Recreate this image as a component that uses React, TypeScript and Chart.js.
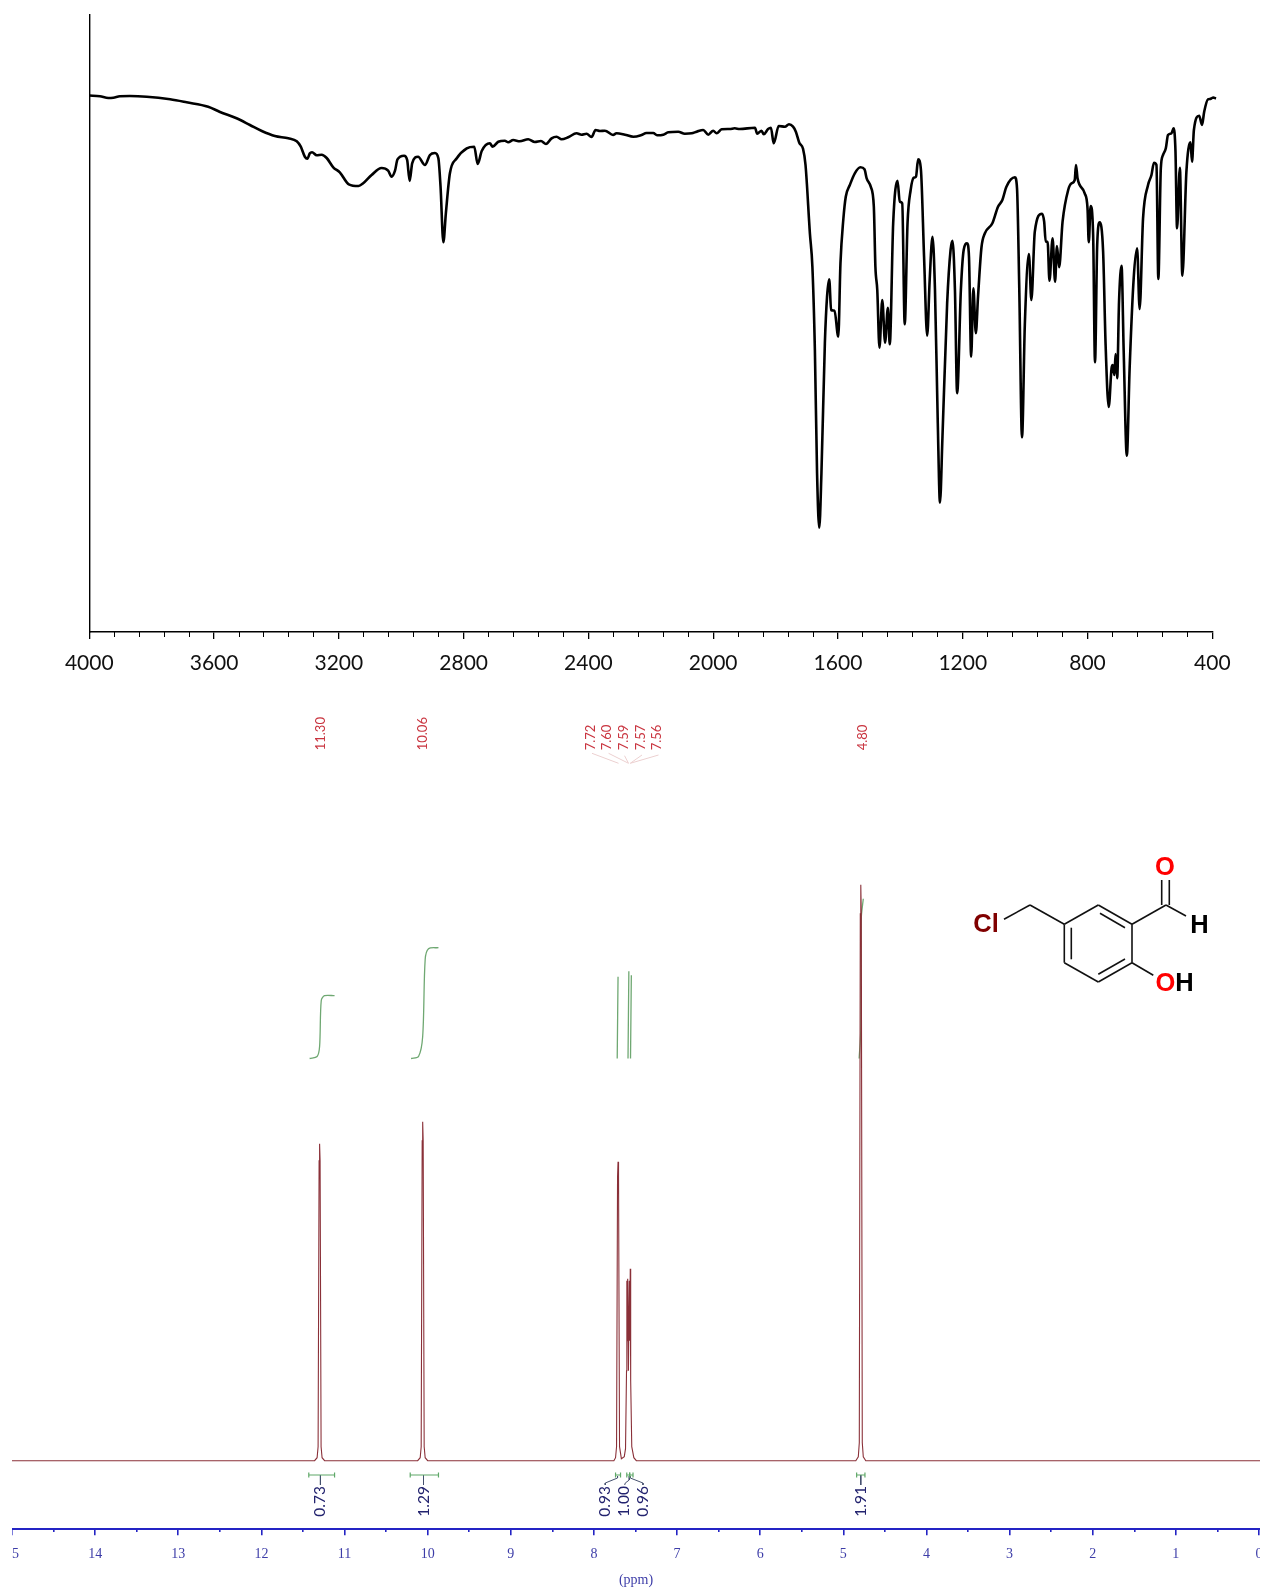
import React, { useEffect, useRef } from "react";
import { Chart, registerables } from "chart.js";

Chart.register(...registerables);

// ---------- IR spectrum ----------
const irWavenumber = [
  4000,3966,3939,3923,3902,3870,3816,3741,3688,3619,3581,3528,3485,3447,3405,3362,3335,3322,3309,3301,3293,3286,3271,3255,3239,3218,3197,3168,3137,3122,3095,3063,3042,3031,3020,3012,2991,2981,2973,2965,2946,2924,2908,2892,2881,2874,2865,2857,2844,2822,2790,2766,2755,2742,2716,2707,2689,2668,2657,2641,2620,2593,2572,2552,2536,2518,2502,2486,2465,2438,2422,2406,2390,2377,2363,2347,2321,2310,2283,2256,2230,2214,2192,2180,2160,2144,2112,2091,2069,2053,2032,2016,2000,1989,1973,1947,1931,1915,1866,1859,1845,1838,1824,1815,1806,1790,1770,1757,1744,1735,1724,1712,1704,1690,1682,1674,1667,1660,1653,1642,1635,1628,1622,1611,1599,1592,1583,1575,1562,1546,1528,1515,1508,1495,1485,1480,1474,1467,1458,1449,1440,1434,1423,1409,1402,1394,1386,1377,1367,1357,1350,1343,1334,1324,1314,1306,1297,1289,1280,1273,1265,1250,1239,1233,1225,1218,1206,1197,1186,1180,1173,1166,1158,1151,1140,1129,1105,1087,1073,1060,1033,1026,1019,1010,1001,988,980,969,946,939,934,928,922,912,904,898,891,880,862,851,841,837,832,809,800,796,790,782,776,769,761,750,742,732,723,719,714,710,705,699,691,684,674,665,652,641,633,622,606,595,587,579,573,565,558,549,542,531,524,518,513,504,496,483,470,465,459,442,433,426,414,408,403,397,388,
];
const irTransmittance = [
  536.5,535.7,534,534.3,535.7,536,535.3,532.7,529.7,525.3,520,513.7,507,501,496,493.7,490.7,485.3,475.3,473.3,478.7,479.7,476.7,477.3,474,464.7,459.7,447.7,446,448.7,457,464,461.3,455.3,461.3,472.7,476.3,472,451,468.7,475.3,467,477,479,473.7,445.3,389.7,418.7,458.7,473.7,483.7,485.3,468,481,488.7,485.3,490.3,491.3,489.7,492,490.7,492.7,490,491,488,493.7,495.3,492.7,494.7,498.7,497.3,498.3,495,502,501,501.3,497,498.7,497.3,495.3,497,499,499,496.7,497.3,499.7,500.3,498.3,498.7,500.3,502,497.3,501.3,498.7,502.7,503,503.7,503,504.3,498.3,501.3,497.7,503,504.3,488.7,506,505.3,507.7,505.3,500.3,489.3,483.2,467,398.7,365.3,282,158.7,104.3,158.7,288.7,335.3,352.7,322,321.3,295.3,368.7,412,435.3,447,458.7,464.7,462.7,453.7,445.3,425.3,365.3,342,284.3,332,289.3,324.3,287.7,408.7,451.3,430.3,428.7,307.7,408.7,442,454.3,455.3,472.7,462,375.3,296.3,352,395.3,342,208.7,129.3,195.3,328.7,382,391.3,342,238.7,342,382,388.7,375.3,275.3,343.7,298.7,335.3,384.5,398.7,408.7,425.3,432,445.3,454.7,443.7,347,194.7,307,378,332,400.3,418.3,410.3,390.3,390.3,351.3,393.7,350.3,386,364.7,410.3,442,448.7,452,467,453.7,438.7,423.7,389.7,426,397,269.7,387,409.7,380.3,287,225,263.7,267,257,278,253.7,330.3,366.3,280.3,176.3,263.7,353.7,383.7,323,413.7,447,457,469.3,467,353,463.7,477,483.7,497,498.7,503.7,480.3,403.7,464.3,356.3,460.3,489.7,470.3,502,516.3,507,520.3,532.7,533,533.5,534.5,533.5,
];
const irMajorTicks = [4000,3600,3200,2800,2400,2000,1600,1200,800,400];
const irMinorTicks = [3920,3840,3760,3680,3520,3440,3360,3280,3120,3040,2960,2880,2720,2640,2560,2480,2320,2240,2160,2080,1920,1840,1760,1680,1520,1440,1360,1280,1120,1040,960,880,720,640,560,480];

// ---------- NMR spectrum ----------
const nmrPpm = [
  15,11.36,11.33,11.318,11.306,11.3,11.294,11.282,11.27,11.24,
  10.12,10.09,10.078,10.066,10.06,10.054,10.042,10.03,10,
  7.76,7.74,7.728,7.716,7.71,7.704,7.692,7.67,7.635,7.62,7.608,7.604,7.599,7.594,7.585,7.575,7.569,7.563,7.558,7.545,7.52,7.49,
  4.85,4.82,4.808,4.796,4.79,4.784,4.772,4.76,4.73,-0.012,
];
const nmrIntensity = [
  0,0,3,14,300,317,300,14,3,0,
  0,3,14,320,339,320,14,3,0,
  0,3,14,284,299,284,14,2,4,12,90,180,120,182,90,180,120,192,80,14,3,0,
  0,4,18,547,576,547,18,4,0,0,
];
const nmrMajorTicks = [15,14,13,12,11,10,9,8,7,6,5,4,3,2,1,0];
const nmrMinorTicks = [14.5,13.5,12.5,11.5,10.5,9.5,8.5,7.5,6.5,5.5,4.5,3.5,2.5,1.5,0.5];

// integral curves [ppm list, value list]
const integralCurves: [number[], number[]][] = [
  [[11.42,11.33,11.3,11.28,11.24,11.12],[402.2,404.2,414.2,460.2,465,465]],
  [[10.2,10.11,10.06,10.03,9.99,9.87],[402.2,404.2,424.2,501.2,512,513]],
  [[7.72,7.71],[402.2,484]],
  [[7.59,7.58],[402.2,489.5]],
  [[7.56,7.55],[402.2,485.5]],
  [[4.81,4.79,4.785,4.76],[402.2,431.5,541.5,562]],
];
// integral bars [from ppm, to ppm]
const integralBars: [number, number][] = [
  [11.43,11.12],[10.21,9.87],[7.74,7.68],[7.605,7.57],[7.57,7.53],[4.84,4.74],
];
// stems and connectors under the integral bars
const integralLinks: [number[], number[]][] = [
  [[11.29,11.29],[-14.3,-24.3]],
  [[10.05,10.05],[-14.3,-24.3]],
  [[7.716,7.716,7.864,7.864],[-15.3,-17.3,-22.3,-24.3]],
  [[7.575,7.575,7.623,7.63],[-15.3,-19.3,-22.3,-24.3]],
  [[7.563,7.563,7.41,7.41],[-15.3,-17.3,-22.3,-24.3]],
  [[4.79,4.79],[-14.3,-24.3]],
];
const integralTexts = ["0.73","1.29","0.93","1.00","0.96","1.91"];
const integralTextPpm = [11.29,10.05,7.864,7.642,7.41,4.79];

// peak pick labels
const peakTexts = ["11.30","10.06","7.72","7.60","7.59","7.57","7.56","4.80"];
const peakTextPpm = [11.29,10.06,8.04,7.84,7.64,7.44,7.24,4.77];
const peakLinks: [number[], number[]][] = [
  [[8.024,7.704],[707.4,697.4]],
  [[7.824,7.584],[707.4,697.4]],
  [[7.632,7.584],[705,697.4]],
  [[7.422,7.563],[705.7,697.4]],
  [[7.223,7.563],[705.7,697.4]],
];

const zip = (xs: number[], ys: number[]) => xs.map((x, i) => ({ x, y: ys[i] }));

const IR_BLACK = "#000000";
const NMR_BLUE = "#2424c4";

function IRChart() {
  const ref = useRef<HTMLCanvasElement>(null);
  useEffect(() => {
    const chart = new Chart(ref.current!, {
      type: "line",
      data: {
        datasets: [
          {
            data: zip(irWavenumber, irTransmittance),
            borderColor: "#000",
            borderWidth: 2.6,
            pointRadius: 0,
            cubicInterpolationMode: "monotone",
            clip: false,
          } as any,
        ],
      },
      options: {
        responsive: false,
        animation: false,
        events: [],
        layout: { padding: { left: 89.3, right: 50.7, top: 15, bottom: 0 } },
        plugins: { legend: { display: false }, tooltip: { enabled: false } },
        scales: {
          x: {
            type: "linear",
            reverse: true,
            min: 400,
            max: 4000,
            grid: { display: true, drawOnChartArea: false, tickLength: 7, color: IR_BLACK, lineWidth: 1.3 },
            border: { display: true, color: IR_BLACK, width: 1.4 },
            ticks: {
              autoSkip: false,
              maxRotation: 0,
              padding: 12,
              color: "#111",
              font: { family: "Lato", size: 21 },
              callback: (v: any) => String(v),
            },
            afterBuildTicks: (s: any) => { s.ticks = irMajorTicks.map((value) => ({ value })); },
            afterFit: (s: any) => { s.height = 63; s.paddingLeft = 0; s.paddingRight = 0; },
          },
          xMinor: {
            type: "linear",
            axis: "x",
            reverse: true,
            min: 400,
            max: 4000,
            position: { y: 0 },
            grid: { display: true, drawOnChartArea: false, tickLength: 5, color: IR_BLACK, lineWidth: 1 },
            border: { display: false },
            ticks: { display: false, autoSkip: false },
            afterBuildTicks: (s: any) => { s.ticks = irMinorTicks.map((value) => ({ value })); },
          },
          y: {
            type: "linear",
            min: 0,
            max: 617,
            grid: { display: false },
            border: { display: true, color: IR_BLACK, width: 1.4 },
            ticks: { display: false },
            afterFit: (s: any) => { s.width = 0; },
          },
        },
      } as any,
    });
    return () => chart.destroy();
  }, []);
  return <canvas ref={ref} width={1263} height={695} style={{ position: "absolute", left: 0, top: 0, display: "block" }} />;
}

const rotatedLabels = {
  id: "rotatedLabels",
  afterDatasetsDraw(chart: any) {
    const { ctx, scales } = chart;
    const put = (text: string, ppm: number, bottomValue: number, font: string, color: string) => {
      ctx.save();
      ctx.translate(scales.x.getPixelForValue(ppm), scales.y.getPixelForValue(bottomValue));
      ctx.rotate(-Math.PI / 2);
      ctx.font = font;
      ctx.fillStyle = color;
      ctx.textAlign = "left";
      ctx.textBaseline = "middle";
      ctx.fillText(text, 0, 0);
      ctx.restore();
    };
    peakTexts.forEach((t, i) => put(t, peakTextPpm[i], 710.4, "13px Lato", "#c9343f"));
    integralTexts.forEach((t, i) => put(t, integralTextPpm[i], -56, "15.5px Lato", "#23236f"));
  },
};

function NMRChart() {
  const ref = useRef<HTMLCanvasElement>(null);
  useEffect(() => {
    const datasets: any[] = [
      { data: zip(nmrPpm, nmrIntensity), borderColor: "#8a3038", borderWidth: 1.1, pointRadius: 0, tension: 0 },
      ...integralCurves.map(([p, v]) => ({
        data: zip(p, v), borderColor: "#6fa872", borderWidth: 1.3, pointRadius: 0, tension: 0.3,
      })),
      ...integralBars.map(([a, b]) => ({
        data: [
          { x: a, y: -11.8 }, { x: a, y: -16.8 }, { x: a, y: -14.3 },
          { x: b, y: -14.3 }, { x: b, y: -11.8 }, { x: b, y: -16.8 },
        ],
        borderColor: "#5fa868", borderWidth: 1.2, pointRadius: 0, tension: 0,
      })),
      ...integralLinks.map(([p, v]) => ({
        data: zip(p, v), borderColor: "#45506e", borderWidth: 1, pointRadius: 0, tension: 0,
      })),
      ...peakLinks.map(([p, v]) => ({
        data: zip(p, v), borderColor: "#ecd0d0", borderWidth: 1, pointRadius: 0, tension: 0,
      })),
    ];
    const chart = new Chart(ref.current!, {
      type: "line",
      data: { datasets },
      options: {
        responsive: false,
        animation: false,
        events: [],
        layout: { padding: 0 },
        plugins: { legend: { display: false }, tooltip: { enabled: false } },
        scales: {
          x: {
            type: "linear",
            reverse: true,
            min: -0.012,
            max: 15,
            grid: { display: true, drawOnChartArea: false, tickLength: 6.5, color: NMR_BLUE, lineWidth: 1.6 },
            border: { display: true, color: NMR_BLUE, width: 2 },
            ticks: {
              autoSkip: false,
              maxRotation: 0,
              padding: 11,
              color: "#3d3da8",
              font: { family: "Liberation Serif", size: 14 },
            },
            title: {
              display: true,
              text: "(ppm)",
              color: "#3d3da8",
              font: { family: "Liberation Serif", size: 14 },
              padding: { top: 0, bottom: 3 },
            },
            afterBuildTicks: (s: any) => { s.ticks = nmrMajorTicks.map((value) => ({ value })); },
            afterFit: (s: any) => { s.height = 63.3; s.paddingLeft = 0; s.paddingRight = 0; },
          },
          xMinor: {
            type: "linear",
            axis: "x",
            reverse: true,
            min: -0.012,
            max: 15,
            position: { y: -68 },
            grid: { display: true, drawOnChartArea: false, tickLength: 3, color: NMR_BLUE, lineWidth: 1.6 },
            border: { display: false },
            ticks: { display: false, autoSkip: false },
            afterBuildTicks: (s: any) => { s.ticks = nmrMinorTicks.map((value) => ({ value })); },
          },
          y: { type: "linear", display: false, min: -68, max: 765.7 },
        },
      } as any,
      plugins: [rotatedLabels],
    });
    return () => chart.destroy();
  }, []);
  return <canvas ref={ref} width={1248} height={897} style={{ position: "absolute", left: 12, top: 695, display: "block" }} />;
}

const bonds = [
  [1004, 919.3, 1030, 905], [1030, 905, 1064.3, 924.3],
  [1064.3, 924.3, 1098.3, 905], [1098.3, 905, 1132, 924.3], [1132, 924.3, 1132, 962.7],
  [1132, 962.7, 1098.3, 982], [1098.3, 982, 1064.3, 962.7], [1064.3, 962.7, 1064.3, 924.3],
  [1100, 913.3, 1125, 927.7], [1071.3, 927.7, 1071.3, 959.3], [1098.3, 974.3, 1125, 959],
  [1132, 924.3, 1166, 905], [1161.7, 880, 1161.7, 905], [1169.3, 880, 1169.3, 905],
  [1166, 905, 1186, 916], [1132, 962.7, 1153.3, 975.3],
];

function Structure() {
  const font = { fontFamily: "Liberation Sans", fontWeight: 700, fontSize: 25.5 } as const;
  return (
    <svg width={1263} height={1592} style={{ position: "absolute", left: 0, top: 0, pointerEvents: "none" }}>
      {bonds.map((b, i) => (
        <line key={i} x1={b[0]} y1={b[1]} x2={b[2]} y2={b[3]} stroke="#111" strokeWidth={1.6} />
      ))}
      <text x={986} y={932} textAnchor="middle" fill="#800000" {...font}>Cl</text>
      <text x={1165} y={874.5} textAnchor="middle" fill="#ff0000" {...font}>O</text>
      <text x={1199.5} y={933} textAnchor="middle" fill="#000" {...font}>H</text>
      <text x={1155.5} y={990.5} fill="#ff0000" {...font}>O<tspan fill="#000">H</tspan></text>
    </svg>
  );
}

export default function App() {
  return (
    <div style={{ position: "absolute", left: 0, top: 0, width: 1263, height: 1592, overflow: "hidden", background: "#fff" }}>
      <IRChart />
      <NMRChart />
      <Structure />
    </div>
  );
}
